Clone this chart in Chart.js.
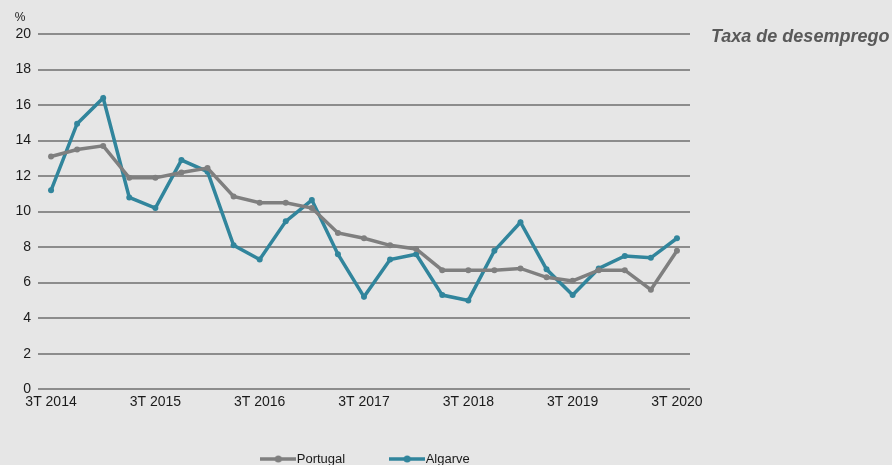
<!DOCTYPE html>
<html>
<head>
<meta charset="utf-8">
<script src="https://cdn.jsdelivr.net/npm/chart.js@4"></script>
<style>
  html, body { margin: 0; padding: 0; background: #e6e6e6; }
  #wrap { position: relative; width: 892px; height: 465px; }
</style>
</head>
<body>
<div id="wrap"><canvas id="c" width="892" height="465"></canvas></div>
<script>
const categories = [
  "3T 2014","4T 2014","1T 2015","2T 2015","3T 2015","4T 2015","1T 2016","2T 2016","3T 2016",
  "4T 2016","1T 2017","2T 2017","3T 2017","4T 2017","1T 2018","2T 2018","3T 2018","4T 2018",
  "1T 2019","2T 2019","3T 2019","4T 2019","1T 2020","2T 2020","3T 2020"
];
const portugal = [13.1,13.5,13.7,11.9,11.9,12.2,12.45,10.85,10.5,10.5,10.2,8.8,8.5,8.1,7.9,6.7,6.7,6.7,6.8,6.3,6.1,6.7,6.7,5.6,7.8];
const algarve  = [11.2,14.95,16.4,10.8,10.2,12.9,12.25,8.1,7.3,9.45,10.65,7.6,5.2,7.3,7.6,5.3,5.0,7.8,9.4,6.75,5.3,6.8,7.5,7.4,8.5];
const yTicks = [0,2,4,6,8,10,12,14,16,18,20];
const seriesNames = ["Portugal","Algarve"];
const titleText = "Taxa de desemprego";
const unitText = "%";

const colGray = "#7f7f7f";
const colTeal = "#31859c";
const LEGEND_PAD = 50;

function legendIcon(color) {
  const c = document.createElement("canvas");
  c.width = 36; c.height = 8;
  const g = c.getContext("2d");
  g.strokeStyle = color; g.lineWidth = 3.5;
  g.beginPath(); g.moveTo(0, 4); g.lineTo(36, 4); g.stroke();
  g.fillStyle = color;
  g.beginPath(); g.arc(18, 4, 3.5, 0, Math.PI * 2); g.fill();
  return c;
}

const extras = {
  id: "extras",
  beforeDraw(chart) {
    const ctx = chart.ctx;
    ctx.save();
    ctx.fillStyle = "#e6e6e6";
    ctx.fillRect(0, 0, chart.width, chart.height);
    ctx.restore();
  },
  afterLayout(chart) {
    const lg = chart.legend;
    if (lg) {
      lg.left = chart.chartArea.left + 4;
      lg.right = chart.chartArea.right + 4;
      lg.top = 459 - LEGEND_PAD - 6.5;
    }
  },
  afterDraw(chart) {
    const ctx = chart.ctx;
    ctx.save();
    ctx.fillStyle = "#1a1a1a";
    ctx.font = "12px 'Liberation Sans', Arial, sans-serif";
    ctx.textAlign = "center";
    ctx.textBaseline = "middle";
    ctx.fillText(unitText, 20, 18);
    ctx.fillStyle = "#595959";
    ctx.font = "italic bold 18px 'Liberation Sans', Arial, sans-serif";
    ctx.textAlign = "left";
    ctx.fillText(titleText, 711, 37);
    ctx.restore();
  }
};

new Chart(document.getElementById("c"), {
  type: "line",
  data: {
    labels: categories,
    datasets: [
      { label: seriesNames[0], data: portugal, borderColor: colGray, backgroundColor: colGray,
        borderWidth: 3.5, pointRadius: 3, pointBackgroundColor: colGray, pointBorderWidth: 0,
        pointStyle: "circle", tension: 0 },
      { label: seriesNames[1], data: algarve, borderColor: colTeal, backgroundColor: colTeal,
        borderWidth: 3.5, pointRadius: 3, pointBackgroundColor: colTeal, pointBorderWidth: 0,
        pointStyle: "circle", tension: 0 }
    ]
  },
  options: {
    responsive: false,
    animation: false,
    devicePixelRatio: 1,
    layout: { padding: { top: 34, left: 0, right: 202, bottom: -24 } },
    plugins: {
      title: { display: false },
      tooltip: { enabled: false },
      legend: {
        position: "bottom",
        align: "center",
        labels: {
          usePointStyle: true,
          pointStyleWidth: 24,
          padding: LEGEND_PAD,
          color: "#1a1a1a",
          font: { family: "'Liberation Sans', Arial, sans-serif", size: 13 },
          generateLabels(chart) {
            return chart.data.datasets.map((ds, i) => ({
              text: ds.label, fillStyle: ds.borderColor, strokeStyle: ds.borderColor,
              lineWidth: 0, hidden: false, datasetIndex: i, pointStyle: legendIcon(ds.borderColor),
              fontColor: "#1a1a1a"
            }));
          }
        }
      }
    },
    scales: {
      x: {
        offset: true,
        grid: { display: false, drawTicks: false },
        border: { display: false },
        ticks: {
          autoSkip: false, maxRotation: 0, minRotation: 0, padding: 5,
          color: "#1a1a1a",
          font: { family: "'Liberation Sans', Arial, sans-serif", size: 14 },
          callback: (v, i) => (i % 4 === 0 ? categories[i] : "")
        }
      },
      y: {
        min: 0, max: 20,
        afterBuildTicks: (s) => { s.ticks = yTicks.map(v => ({ value: v })); },
        afterFit: (s) => { s.width = 38; },
        grid: { color: "#8c8c8c", lineWidth: 2, drawTicks: false },
        border: { display: false },
        ticks: {
          padding: 7, color: "#1a1a1a",
          font: { family: "'Liberation Sans', Arial, sans-serif", size: 14 }
        }
      }
    }
  },
  plugins: [extras]
});
</script>
</body>
</html>
